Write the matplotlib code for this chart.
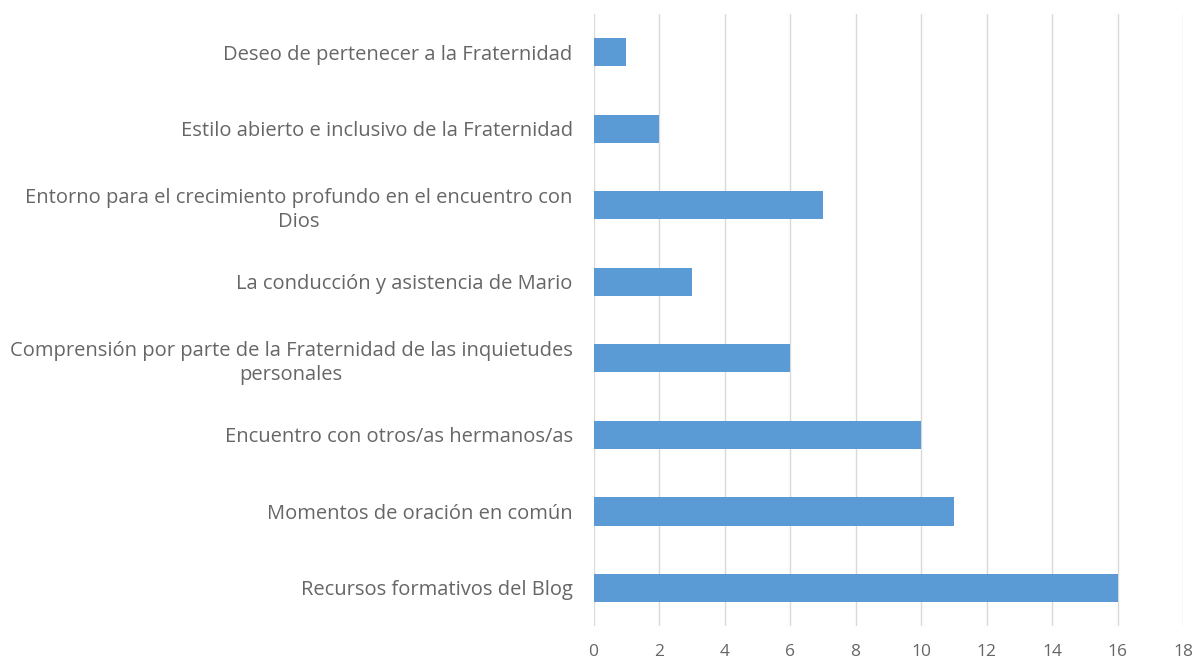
import matplotlib.pyplot as plt

categorias = [
    "Deseo de pertenecer a la Fraternidad",
    "Estilo abierto e inclusivo de la Fraternidad",
    "Entorno para el crecimiento profundo en el encuentro con\nDios",
    "La conducción y asistencia de Mario",
    "Comprensión por parte de la Fraternidad de las inquietudes\npersonales",
    "Encuentro con otros/as hermanos/as",
    "Momentos de oración en común",
    "Recursos formativos del Blog",
]
valores = [1, 2, 7, 3, 6, 10, 11, 16]
ticks_x = [0, 2, 4, 6, 8, 10, 12, 14, 16, 18]

plt.rcParams['font.family'] = ['Open Sans', 'DejaVu Sans']

fig = plt.figure(figsize=(12.04, 6.64), dpi=100, facecolor="white")
ax = fig.add_axes([0.493, 0.057, 0.4896, 0.922])

pos = list(range(len(categorias)))
ax.barh(pos, valores, height=0.37, color="#5B9BD5", zorder=3)
ax.set_ylim(len(categorias) - 0.5, -0.5)
ax.set_xlim(0, 18)
ax.set_xticks(ticks_x)
ax.set_yticks(pos)
ax.set_yticklabels(categorias, ha="right", multialignment="center",
                   linespacing=1.25)

ax.grid(axis="x", color="#D9D9D9", linewidth=1, zorder=0)
for s in ax.spines.values():
    s.set_visible(False)
ax.tick_params(axis="both", length=0, colors="#666666")
ax.tick_params(axis="y", pad=15, labelsize=14.5)
ax.tick_params(axis="x", pad=13, labelsize=12.5)

plt.savefig("out.png", dpi=100)
